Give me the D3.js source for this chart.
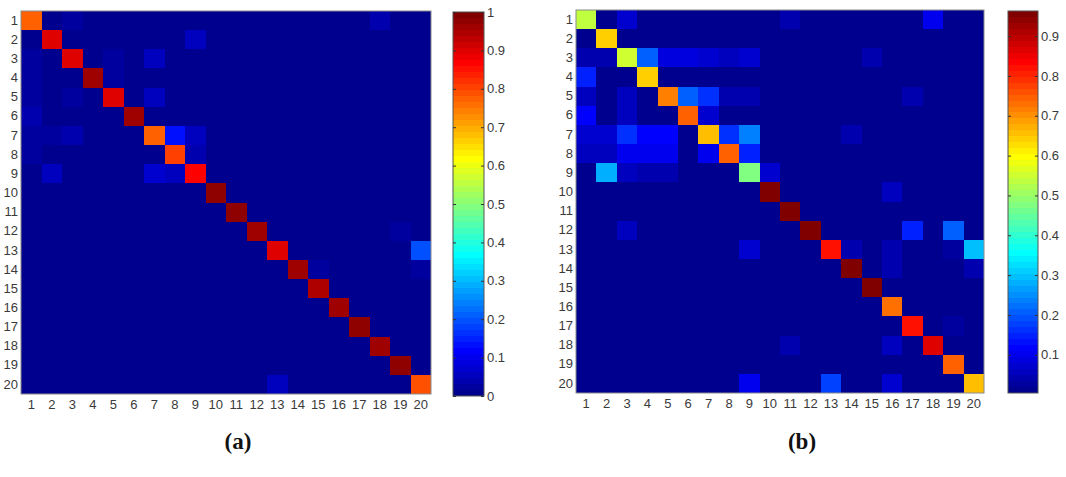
<!DOCTYPE html>
<html>
<head>
<meta charset="utf-8">
<script src="https://cdn.jsdelivr.net/npm/d3@7"></script>
<style>
  body { margin: 0; background: #fff; }
  svg { display: block; }
  .tick text { font-family: "Liberation Sans", Arial, sans-serif; font-size: 13px; fill: #3a3a3a; }
</style>
</head>
<body>
<div id="chart"></div>
<script>
// class labels (rows = true class, columns = predicted class)
const classes = [1, 2, 3, 4, 5, 6, 7, 8, 9, 10, 11, 12, 13, 14, 15, 16, 17, 18, 19, 20];

// (a) diagonal and off-diagonal entries [row, col, value]
const diagA = [0.77, 0.9, 0.9, 0.96, 0.9, 0.96, 0.77, 0.8, 0.86, 0.97, 0.97, 0.96, 0.9, 0.96, 0.95, 0.96, 0.97, 0.96, 0.97, 0.79];
const offA = [
  [1, 3, 0.03], [1, 18, 0.04], [2, 9, 0.05],
  [3, 1, 0.03], [3, 5, 0.03], [3, 7, 0.06],
  [4, 1, 0.03], [4, 5, 0.03],
  [5, 1, 0.03], [5, 3, 0.03], [5, 7, 0.06],
  [6, 1, 0.04],
  [7, 1, 0.03], [7, 2, 0.03], [7, 3, 0.04], [7, 8, 0.14], [7, 9, 0.05],
  [8, 1, 0.03], [8, 9, 0.04],
  [9, 2, 0.06], [9, 7, 0.07], [9, 8, 0.05],
  [12, 19, 0.03], [13, 20, 0.19], [14, 15, 0.03], [14, 20, 0.03],
  [20, 13, 0.06]
];

// (b) diagonal and off-diagonal entries [row, col, value]
const diagB = [0.53, 0.64, 0.55, 0.645, 0.715, 0.74, 0.65, 0.74, 0.47, 0.96, 0.95, 0.96, 0.82, 0.95, 0.95, 0.73, 0.82, 0.87, 0.75, 0.66];
const offB = [
  [1, 3, 0.07], [1, 11, 0.04], [1, 18, 0.1],
  [3, 1, 0.04], [3, 2, 0.04], [3, 4, 0.2], [3, 5, 0.09], [3, 6, 0.09], [3, 7, 0.075], [3, 8, 0.06], [3, 9, 0.07], [3, 15, 0.04],
  [4, 1, 0.14],
  [5, 1, 0.06], [5, 3, 0.05], [5, 6, 0.2], [5, 7, 0.16], [5, 8, 0.035], [5, 9, 0.035], [5, 17, 0.04],
  [6, 1, 0.11], [6, 3, 0.05], [6, 7, 0.07],
  [7, 1, 0.07], [7, 2, 0.07], [7, 3, 0.16], [7, 4, 0.12], [7, 5, 0.12], [7, 8, 0.16], [7, 9, 0.24], [7, 14, 0.04],
  [8, 1, 0.05], [8, 2, 0.05], [8, 3, 0.1], [8, 4, 0.1], [8, 5, 0.1], [8, 7, 0.1], [8, 9, 0.15],
  [9, 2, 0.28], [9, 3, 0.05], [9, 4, 0.035], [9, 5, 0.04], [9, 10, 0.07],
  [10, 16, 0.05],
  [12, 3, 0.06], [12, 17, 0.15], [12, 19, 0.21],
  [13, 9, 0.07], [13, 14, 0.04], [13, 16, 0.04], [13, 19, 0.03], [13, 20, 0.3],
  [14, 16, 0.04], [14, 20, 0.04],
  [17, 19, 0.03], [18, 11, 0.04], [18, 16, 0.05],
  [20, 9, 0.1], [20, 13, 0.17], [20, 16, 0.07]
];

// colour limits and colorbar ticks
const climA = [0, 1];
const climB = [0.004, 0.963];
const cbTicksA = [0, 0.1, 0.2, 0.3, 0.4, 0.5, 0.6, 0.7, 0.8, 0.9, 1];
const cbTicksB = [0.1, 0.2, 0.3, 0.4, 0.5, 0.6, 0.7, 0.8, 0.9];

const captions = ["(a)", "(b)"];

const W = 1066, H = 477;

// matlab jet(64)
function jet64(k) {
  const u = p => (p < 1 || p > 47) ? 0 : p <= 16 ? p / 16 : p <= 31 ? 1 : (48 - p) / 16;
  return d3.rgb(255 * u(k - 24), 255 * u(k - 8), 255 * u(k + 8)).formatHex();
}
function colorFor(v, clim) {
  let k = Math.floor((v - clim[0]) / (clim[1] - clim[0]) * 64) + 1;
  k = Math.max(1, Math.min(64, k));
  return jet64(k);
}

function buildCells(diag, off, clim) {
  const m = classes.map(() => classes.map(() => clim[0]));
  diag.forEach((v, i) => { m[i][i] = v; });
  off.forEach(([r, c, v]) => { m[r - 1][c - 1] = v; });
  const cells = [];
  m.forEach((row, i) => row.forEach((v, j) => cells.push({ r: classes[i], c: classes[j], v })));
  return cells;
}

const panels = [
  { cells: buildCells(diagA, offA, climA), clim: climA, ticks: cbTicksA, fmt: d => d3.format("")(+d.toFixed(1)),
    plot: { x0: 21, x1: 431, y0: 11, y1: 394 }, cb: { x0: 453, x1: 484, y0: 12, y1: 396 }, capX: 238 },
  { cells: buildCells(diagB, offB, climB), clim: climB, ticks: cbTicksB, fmt: d => d.toFixed(1),
    plot: { x0: 576, x1: 984, y0: 10, y1: 393 }, cb: { x0: 1008, x1: 1038, y0: 11, y1: 393 }, capX: 802 }
];

const svg = d3.select("#chart").append("svg")
  .attr("width", W).attr("height", H)
  .attr("viewBox", [0, 0, W, H]);

panels.forEach((p, pi) => {
  const g = svg.append("g");

  const x = d3.scaleBand().domain(classes).range([p.plot.x0, p.plot.x1]);
  const y = d3.scaleBand().domain(classes).range([p.plot.y0, p.plot.y1]);

  g.append("g")
    .attr("shape-rendering", "crispEdges")
    .selectAll("rect")
    .data(p.cells)
    .join("rect")
    .attr("x", d => Math.round(x(d.c)))
    .attr("y", d => Math.round(y(d.r)))
    .attr("width", d => Math.round(x(d.c) + x.bandwidth()) - Math.round(x(d.c)))
    .attr("height", d => Math.round(y(d.r) + y.bandwidth()) - Math.round(y(d.r)))
    .attr("fill", d => colorFor(d.v, p.clim));

  g.append("rect")
    .attr("x", p.plot.x0).attr("y", p.plot.y0)
    .attr("width", p.plot.x1 - p.plot.x0).attr("height", p.plot.y1 - p.plot.y0)
    .attr("fill", "none").attr("stroke", "#8a8a8a").attr("stroke-width", 1);

  const xAxis = g.append("g")
    .attr("transform", `translate(0,${p.plot.y1})`)
    .call(d3.axisBottom(x).tickSize(0).tickPadding(6));
  xAxis.select(".domain").remove();

  const yAxis = g.append("g")
    .attr("transform", `translate(${p.plot.x0},0)`)
    .call(d3.axisLeft(y).tickSize(0).tickPadding(3));
  yAxis.select(".domain").remove();

  // colorbar
  const cy = d3.scaleLinear().domain(p.clim).range([p.cb.y1, p.cb.y0]);
  const bands = d3.range(1, 65);
  const step = (p.clim[1] - p.clim[0]) / 64;
  g.append("g")
    .attr("shape-rendering", "crispEdges")
    .selectAll("rect")
    .data(bands)
    .join("rect")
    .attr("x", p.cb.x0)
    .attr("width", p.cb.x1 - p.cb.x0)
    .attr("y", k => Math.round(cy(p.clim[0] + k * step)))
    .attr("height", k => Math.round(cy(p.clim[0] + (k - 1) * step)) - Math.round(cy(p.clim[0] + k * step)))
    .attr("fill", k => jet64(k));

  g.append("rect")
    .attr("x", p.cb.x0).attr("y", p.cb.y0)
    .attr("width", p.cb.x1 - p.cb.x0).attr("height", p.cb.y1 - p.cb.y0)
    .attr("fill", "none").attr("stroke", "#555").attr("stroke-width", 1);

  const right = g.append("g")
    .attr("transform", `translate(${p.cb.x1},0)`)
    .call(d3.axisRight(cy).tickValues(p.ticks).tickSize(-3).tickPadding(3).tickFormat(p.fmt));
  right.select(".domain").remove();
  right.selectAll(".tick line").attr("stroke", "#333");

  const left = g.append("g")
    .attr("transform", `translate(${p.cb.x0},0)`)
    .call(d3.axisLeft(cy).tickValues(p.ticks).tickSize(-3).tickFormat(""));
  left.select(".domain").remove();
  left.selectAll(".tick line").attr("stroke", "#333");

  g.append("text")
    .attr("x", p.capX)
    .attr("y", 449)
    .attr("text-anchor", "middle")
    .attr("font-family", "'Liberation Serif', 'Times New Roman', serif")
    .attr("font-weight", "bold")
    .attr("font-size", 23)
    .attr("fill", "#111")
    .text(captions[pi]);
});
</script>
</body>
</html>
